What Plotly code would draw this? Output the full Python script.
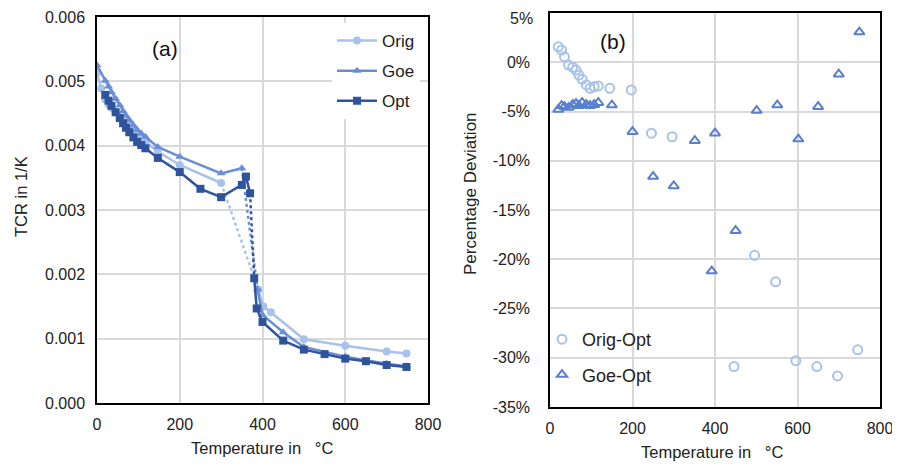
import plotly.graph_objects as go

# ---------------- Data (left panel: TCR) ----------------
orig_T = [0, 10, 20, 28, 35, 45, 55, 63, 70, 78, 88, 97, 107, 117, 147, 200, 300,
          390, 402, 420, 500, 600, 700, 748]
orig_tcr = [0.00513, 0.00489, 0.00472, 0.00464, 0.00459, 0.00453, 0.00445, 0.00438,
            0.00434, 0.00428, 0.00423, 0.00417, 0.00411, 0.00406, 0.00391, 0.00370,
            0.00342, 0.00176, 0.00150, 0.00141, 0.00099, 0.00089, 0.00080, 0.00077]
orig_break = 16  # dotted segment between index 16 and 17

goe_T = [0, 20, 28, 35, 45, 55, 63, 70, 78, 88, 97, 107, 117, 147, 200, 300, 350,
         388, 400, 450, 500, 600, 700, 748]
goe_tcr = [0.00525, 0.00501, 0.00492, 0.00483, 0.00473, 0.00463, 0.00454, 0.00447,
           0.00440, 0.00432, 0.00425, 0.00419, 0.00414, 0.00398, 0.00383, 0.00357,
           0.00365, 0.00177, 0.00137, 0.00110, 0.00087, 0.00072, 0.00061, 0.00057]
goe_break = 16

opt_T = [20, 28, 35, 45, 55, 63, 70, 78, 88, 97, 107, 117, 147, 200, 250, 300, 350,
         360, 370, 380, 386, 400, 450, 500, 550, 600, 650, 700, 748]
opt_tcr = [0.00479, 0.00470, 0.00462, 0.00452, 0.00443, 0.00435, 0.00428, 0.00421,
           0.00413, 0.00406, 0.00401, 0.00396, 0.00381, 0.00359, 0.00333, 0.00320,
           0.00339, 0.00352, 0.00326, 0.00194, 0.00147, 0.00126, 0.00097, 0.00083,
           0.00076, 0.00069, 0.00065, 0.00059, 0.00056]
opt_break = 18

# ---------------- Data (right panel: deviation) ----------------
dev_orig_T = [20, 28, 35, 45, 55, 63, 70, 78, 88, 97, 107, 117, 145, 197, 246, 296,
              446, 496, 547, 596, 647, 697, 746]
dev_orig = [1.58, 1.24, 0.56, -0.28, -0.50, -0.79, -1.30, -1.73, -2.30, -2.64, -2.48,
            -2.40, -2.64, -2.80, -7.2, -7.56, -30.9, -19.6, -22.3, -30.3, -30.9, -31.85,
            -29.2]
dev_goe_T = [20, 28, 35, 45, 55, 63, 70, 78, 88, 97, 107, 117, 150, 200, 250, 300,
             351, 392, 400, 450, 501, 551, 602, 650, 700, 750]
dev_goe = [-4.8, -4.4, -4.5, -4.6, -4.3, -4.2, -4.4, -4.1, -4.3, -4.4, -4.3, -4.1, -4.34,
           -7.05, -11.6, -12.56, -7.96, -21.2, -7.2, -17.1, -4.9, -4.34, -7.8, -4.5,
           -1.2, 3.07]

x_ticks = [0, 200, 400, 600, 800]
y2_tickvals = [0.05, 0.0, -0.05, -0.10, -0.15, -0.20, -0.25, -0.30, -0.35]
y2_ticktext = ["5%", "0%", "-5%", "-10%", "-15%", "-20%", "-25%", "-30%", "-35%"]

C_ORIG = "rgb(168,194,234)"
C_GOE = "rgb(104,143,214)"
C_OPT = "rgb(47,84,156)"
C_DEV_GOE = "rgb(88,128,206)"
FONT = "Liberation Sans, Arial, sans-serif"
TXT = "#222"

W, H = 900, 468
OX, OY = 8, 8  # page body margin offset


def px(x):
    return (x - OX) / W


def py(y):
    return 1 - (y - OY) / H


fig = go.Figure()


def add_series(T, V, brk, color, symbol, name, group):
    Ts = T[:brk + 1] + [None] + T[brk + 1:]
    Vs = V[:brk + 1] + [None] + V[brk + 1:]
    fig.add_trace(go.Scatter(
        x=Ts, y=Vs, mode="lines+markers", name=name, legendgroup=group,
        line=dict(color=color, width=2.5), connectgaps=False,
        marker=dict(symbol=symbol, size=8, color=color),
        xaxis="x", yaxis="y", legend="legend"))
    fig.add_trace(go.Scatter(
        x=[T[brk], T[brk + 1]], y=[V[brk], V[brk + 1]], mode="lines",
        line=dict(color=color, width=2.5, dash="dot"), showlegend=False,
        hoverinfo="skip", xaxis="x", yaxis="y"))


add_series(orig_T, orig_tcr, orig_break, C_ORIG, "circle", "Orig", "g1")
add_series(goe_T, goe_tcr, goe_break, C_GOE, "triangle-up", "Goe", "g2")
add_series(opt_T, opt_tcr, opt_break, C_OPT, "square", "Opt", "g3")

fig.add_trace(go.Scatter(
    x=dev_orig_T, y=[v / 100 for v in dev_orig], mode="markers", name="Orig-Opt",
    marker=dict(symbol="circle-open", size=9, color=C_ORIG, line=dict(width=2, color=C_ORIG)),
    xaxis="x2", yaxis="y2", legend="legend2", legendgroup="h1"))
fig.add_trace(go.Scatter(
    x=dev_goe_T, y=[v / 100 for v in dev_goe], mode="markers", name="Goe-Opt",
    marker=dict(symbol="triangle-up-open", size=9, color=C_DEV_GOE,
                line=dict(width=2, color=C_DEV_GOE)),
    xaxis="x2", yaxis="y2", legend="legend2", legendgroup="h2"))

axis_common = dict(showgrid=True, gridcolor="#D9D9D9", gridwidth=1.5, zeroline=False,
                   showline=True, linecolor="black", linewidth=1.5, mirror=True,
                   ticks="", automargin=False, ticklabeloverflow="allow",
                   tickfont=dict(family=FONT, size=16, color=TXT))

# top tick label of the right panel is drawn as an annotation so it is not clipped
y2_shown_text = [""] + y2_ticktext[1:]

fig.update_layout(
    width=W, height=H, margin=dict(l=0, r=0, t=0, b=0, autoexpand=False),
    paper_bgcolor="white", plot_bgcolor="white",
    font=dict(family=FONT, size=16, color=TXT),
    xaxis=dict(domain=[px(97), px(428)], range=[0, 800.01], tickvals=x_ticks,
               anchor="y", ticklabelstandoff=6, **axis_common),
    yaxis=dict(domain=[py(403), py(17)], range=[0, 0.006001], dtick=0.001,
               tickformat=".3f", anchor="x", ticklabelstandoff=7, **axis_common),
    xaxis2=dict(domain=[px(550), px(880)], range=[0, 800.01], tickvals=x_ticks,
                anchor="y2", ticklabelstandoff=6, **axis_common),
    yaxis2=dict(domain=[py(407), py(13)], range=[-0.3501, 0.0501], tickvals=y2_tickvals,
                ticktext=y2_shown_text, anchor="x2", ticklabelstandoff=15, **axis_common),
    legend=dict(x=px(332), y=py(23), xanchor="left", yanchor="top",
                bgcolor="white", font=dict(family=FONT, size=17, color=TXT),
                tracegroupgap=5, traceorder="grouped", itemwidth=40),
    legend2=dict(x=px(542), y=py(321), xanchor="left", yanchor="top",
                 bgcolor="rgba(255,255,255,0)", font=dict(family=FONT, size=18, color=TXT),
                 tracegroupgap=9, traceorder="grouped", itemwidth=30),
    annotations=[
        dict(text=y2_ticktext[0], x=px(535), y=py(8), xref="paper", yref="paper",
             xanchor="right", yanchor="top", showarrow=False,
             font=dict(family=FONT, size=16, color=TXT)),
        dict(text="(a)", x=px(165), y=py(48), xref="paper", yref="paper",
             xanchor="center", yanchor="middle",
             showarrow=False, font=dict(family=FONT, size=21, color="#111")),
        dict(text="(b)", x=px(613), y=py(42), xref="paper", yref="paper",
             xanchor="center", yanchor="middle",
             showarrow=False, font=dict(family=FONT, size=21, color="#111")),
        dict(text="Temperature in\u00a0\u00a0 °C", x=px(262), y=py(448),
             xref="paper", yref="paper", showarrow=False, xanchor="center", yanchor="middle",
             font=dict(family=FONT, size=16.5, color=TXT)),
        dict(text="Temperature in\u00a0\u00a0 °C", x=px(712), y=py(452),
             xref="paper", yref="paper", showarrow=False, xanchor="center", yanchor="middle",
             font=dict(family=FONT, size=16.5, color=TXT)),
        dict(text="TCR in 1/K", x=px(21), y=py(197), xref="paper", yref="paper",
             xanchor="center", yanchor="middle",
             showarrow=False, textangle=-90, font=dict(family=FONT, size=16.5, color=TXT)),
        dict(text="Percentage Deviation", x=px(471), y=py(194), xref="paper",
             xanchor="center", yanchor="middle",
             yref="paper", showarrow=False, textangle=-90,
             font=dict(family=FONT, size=17, color=TXT)),
    ],
)

fig.write_html("out.html")
